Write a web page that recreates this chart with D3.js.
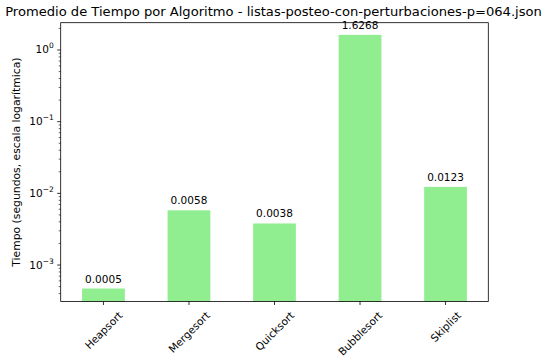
<!DOCTYPE html>
<html>
<head>
<meta charset="utf-8">
<script src="https://cdn.jsdelivr.net/npm/d3@7"></script>
<style>
  body { margin: 0; background: #fff; }
  svg { font-family: "DejaVu Sans", sans-serif; }
</style>
</head>
<body>
<div id="chart"></div>
<script>
// Data
const algorithms = ["Heapsort", "Mergesort", "Quicksort", "Bubblesort", "Skiplist"];
const avgTimes = [0.00047, 0.0058, 0.0038, 1.6268, 0.0123];
const yTickValues = [1e-3, 1e-2, 1e-1, 1e0];
const yTickExponents = ["−3", "−2", "−1", "0"];

const width = 546, height = 362;
const margin = { top: 22.7, right: 57.7, bottom: 60.5, left: 60.7 };
const plotW = width - margin.left - margin.right;
const plotH = height - margin.top - margin.bottom;

const svg = d3.select("#chart")
    .append("svg")
    .attr("width", width)
    .attr("height", height);

const g = svg.append("g")
    .attr("transform", `translate(${margin.left},${margin.top})`);

// Scales
const x = d3.scaleBand()
    .domain(algorithms)
    .range([0, plotW])
    .paddingInner(0.5)
    .paddingOuter(0.25);

const y = d3.scaleLog()
    .domain([Math.pow(10, -3.509), Math.pow(10, 0.381)])
    .range([plotH, 0]);

// Bars
g.selectAll("rect.bar")
    .data(algorithms)
    .enter()
    .append("rect")
    .attr("class", "bar")
    .attr("x", d => x(d))
    .attr("width", x.bandwidth())
    .attr("y", (d, i) => y(avgTimes[i]))
    .attr("height", (d, i) => plotH - y(avgTimes[i]))
    .attr("fill", "#90ee90");

// Value labels
g.selectAll("text.val")
    .data(algorithms)
    .enter()
    .append("text")
    .attr("class", "val")
    .attr("x", d => x(d) + x.bandwidth() / 2)
    .attr("y", (d, i) => y(avgTimes[i]) - 6)
    .attr("text-anchor", "middle")
    .style("font-size", "10.5px")
    .text((d, i) => avgTimes[i].toFixed(4));

// Y axis: minor ticks
const minorTicks = [];
for (let e = -4; e <= 0; e++) {
    for (let m = 2; m <= 9; m++) {
        const v = m * Math.pow(10, e);
        if (v >= y.domain()[0] && v <= y.domain()[1]) minorTicks.push(v);
    }
}

g.selectAll("line.minor")
    .data(minorTicks)
    .enter()
    .append("line")
    .attr("x1", -2)
    .attr("x2", 0)
    .attr("y1", d => y(d))
    .attr("y2", d => y(d))
    .attr("stroke", "#000")
    .attr("stroke-width", 0.6);

// Y axis: major ticks
g.selectAll("line.major")
    .data(yTickValues)
    .enter()
    .append("line")
    .attr("x1", -3.5)
    .attr("x2", 0)
    .attr("y1", d => y(d))
    .attr("y2", d => y(d))
    .attr("stroke", "#000")
    .attr("stroke-width", 0.8);

const yLabels = g.selectAll("text.ytick")
    .data(yTickValues)
    .enter()
    .append("text")
    .attr("class", "ytick")
    .attr("x", -7)
    .attr("y", d => y(d) + 3.5)
    .attr("text-anchor", "end")
    .style("font-size", "10.5px");

yLabels.append("tspan").text("10");
yLabels.append("tspan")
    .attr("dy", -5)
    .style("font-size", "7.5px")
    .text((d, i) => yTickExponents[i]);

// X axis ticks and rotated labels
g.selectAll("line.xtick")
    .data(algorithms)
    .enter()
    .append("line")
    .attr("x1", d => x(d) + x.bandwidth() / 2)
    .attr("x2", d => x(d) + x.bandwidth() / 2)
    .attr("y1", plotH)
    .attr("y2", plotH + 3.5)
    .attr("stroke", "#000")
    .attr("stroke-width", 0.8);

g.selectAll("text.xlab")
    .data(algorithms)
    .enter()
    .append("text")
    .attr("class", "xlab")
    .attr("text-anchor", "middle")
    .attr("dominant-baseline", "central")
    .style("font-size", "10.5px")
    .text(d => d)
    .each(function (d) {
        const len = this.getComputedTextLength();
        const boxH = (len + 12) * Math.SQRT1_2;
        const cx = x(d) + x.bandwidth() / 2;
        const cy = plotH + 3.5 + 4 + boxH / 2;
        d3.select(this)
            .attr("transform", `translate(${cx},${cy}) rotate(-45)`);
    });

// Frame
g.append("rect")
    .attr("width", plotW)
    .attr("height", plotH)
    .attr("fill", "none")
    .attr("stroke", "#000")
    .attr("stroke-width", 0.8);

// Title
svg.append("text")
    .attr("x", margin.left + plotW / 2 - 1)
    .attr("y", 16)
    .attr("text-anchor", "middle")
    .style("font-size", "13.1px")
    .text("Promedio de Tiempo por Algoritmo - listas-posteo-con-perturbaciones-p=064.json");

// Y axis title
svg.append("text")
    .attr("transform", `translate(20,${margin.top + plotH / 2}) rotate(-90)`)
    .attr("text-anchor", "middle")
    .style("font-size", "10.8px")
    .text("Tiempo (segundos, escala logarítmica)");
</script>
</body>
</html>
